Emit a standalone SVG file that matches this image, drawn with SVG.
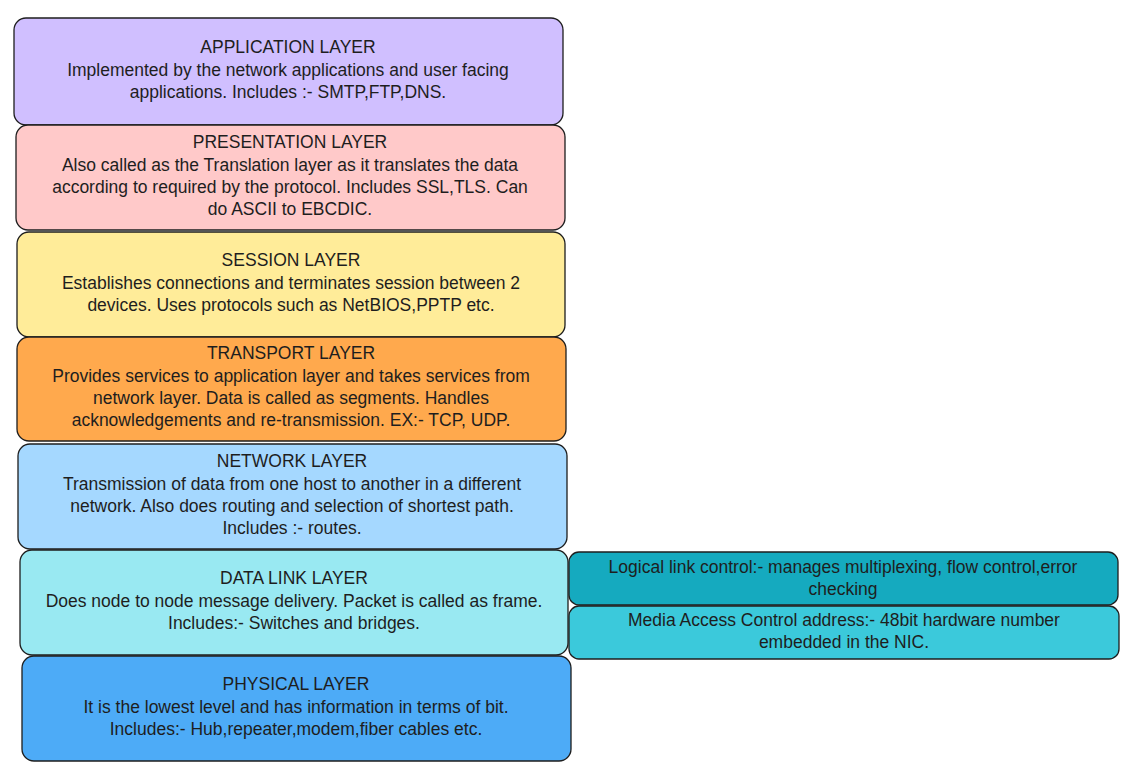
<svg xmlns="http://www.w3.org/2000/svg" width="1131" height="771" viewBox="0 0 1131 771">
<style>
rect{stroke:#1e1e1e;stroke-width:1.3}
text{font-family:"Liberation Sans",sans-serif;font-size:17.5px;fill:#1e1e1e;text-anchor:middle}
</style>
<rect width="1131" height="771" fill="#ffffff" style="stroke:none"/>
<g id="application"><rect x="14" y="18" width="549" height="107" rx="12" fill="#d0bfff"/>
<text x="288" y="53">APPLICATION LAYER</text><text x="288" y="76">Implemented by the network applications and user facing</text><text x="288" y="98">applications. Includes :- SMTP,FTP,DNS.</text></g>
<g id="presentation"><rect x="16" y="125" width="549" height="105" rx="12" fill="#ffc9c9"/>
<text x="290" y="148">PRESENTATION LAYER</text><text x="290" y="171">Also called as the Translation layer as it translates the data</text><text x="290" y="193">according to required by the protocol. Includes SSL,TLS. Can</text><text x="290" y="215">do ASCII to EBCDIC.</text></g>
<g id="session"><rect x="17" y="232" width="548" height="105" rx="12" fill="#ffec99"/>
<text x="291" y="266">SESSION LAYER</text><text x="291" y="289">Establishes connections and terminates session between 2</text><text x="291" y="311">devices. Uses protocols such as NetBIOS,PPTP etc.</text></g>
<g id="transport"><rect x="17" y="337" width="549" height="104" rx="12" fill="#ffa94d"/>
<text x="291" y="359">TRANSPORT LAYER</text><text x="291" y="382">Provides services to application layer and takes services from</text><text x="291" y="404">network layer. Data is called as segments. Handles</text><text x="291" y="426">acknowledgements and re-transmission. EX:- TCP, UDP.</text></g>
<g id="network"><rect x="18" y="444" width="549" height="105" rx="12" fill="#a5d8ff"/>
<text x="292" y="467">NETWORK LAYER</text><text x="292" y="490">Transmission of data from one host to another in a different</text><text x="292" y="512">network. Also does routing and selection of shortest path.</text><text x="292" y="534">Includes :- routes.</text></g>
<g id="datalink"><rect x="20" y="550" width="548" height="105" rx="12" fill="#99e9f2"/>
<text x="294" y="584">DATA LINK LAYER</text><text x="294" y="607">Does node to node message delivery. Packet is called as frame.</text><text x="294" y="629">Includes:- Switches and bridges.</text></g>
<g id="physical"><rect x="22" y="656" width="549" height="105" rx="12" fill="#4dabf7"/>
<text x="296" y="690">PHYSICAL LAYER</text><text x="296" y="713">It is the lowest level and has information in terms of bit.</text><text x="296" y="735">Includes:- Hub,repeater,modem,fiber cables etc.</text></g>
<g id="llc"><rect x="569" y="552" width="549" height="53" rx="10" fill="#15aabf"/>
<text x="843" y="573">Logical link control:- manages multiplexing, flow control,error</text><text x="843" y="595">checking</text></g>
<g id="mac"><rect x="569" y="606" width="550" height="53" rx="10" fill="#3bc9db"/>
<text x="844" y="626">Media Access Control address:- 48bit hardware number</text><text x="844" y="648">embedded in the NIC.</text></g>
<g id="connectors"></g>
</svg>
